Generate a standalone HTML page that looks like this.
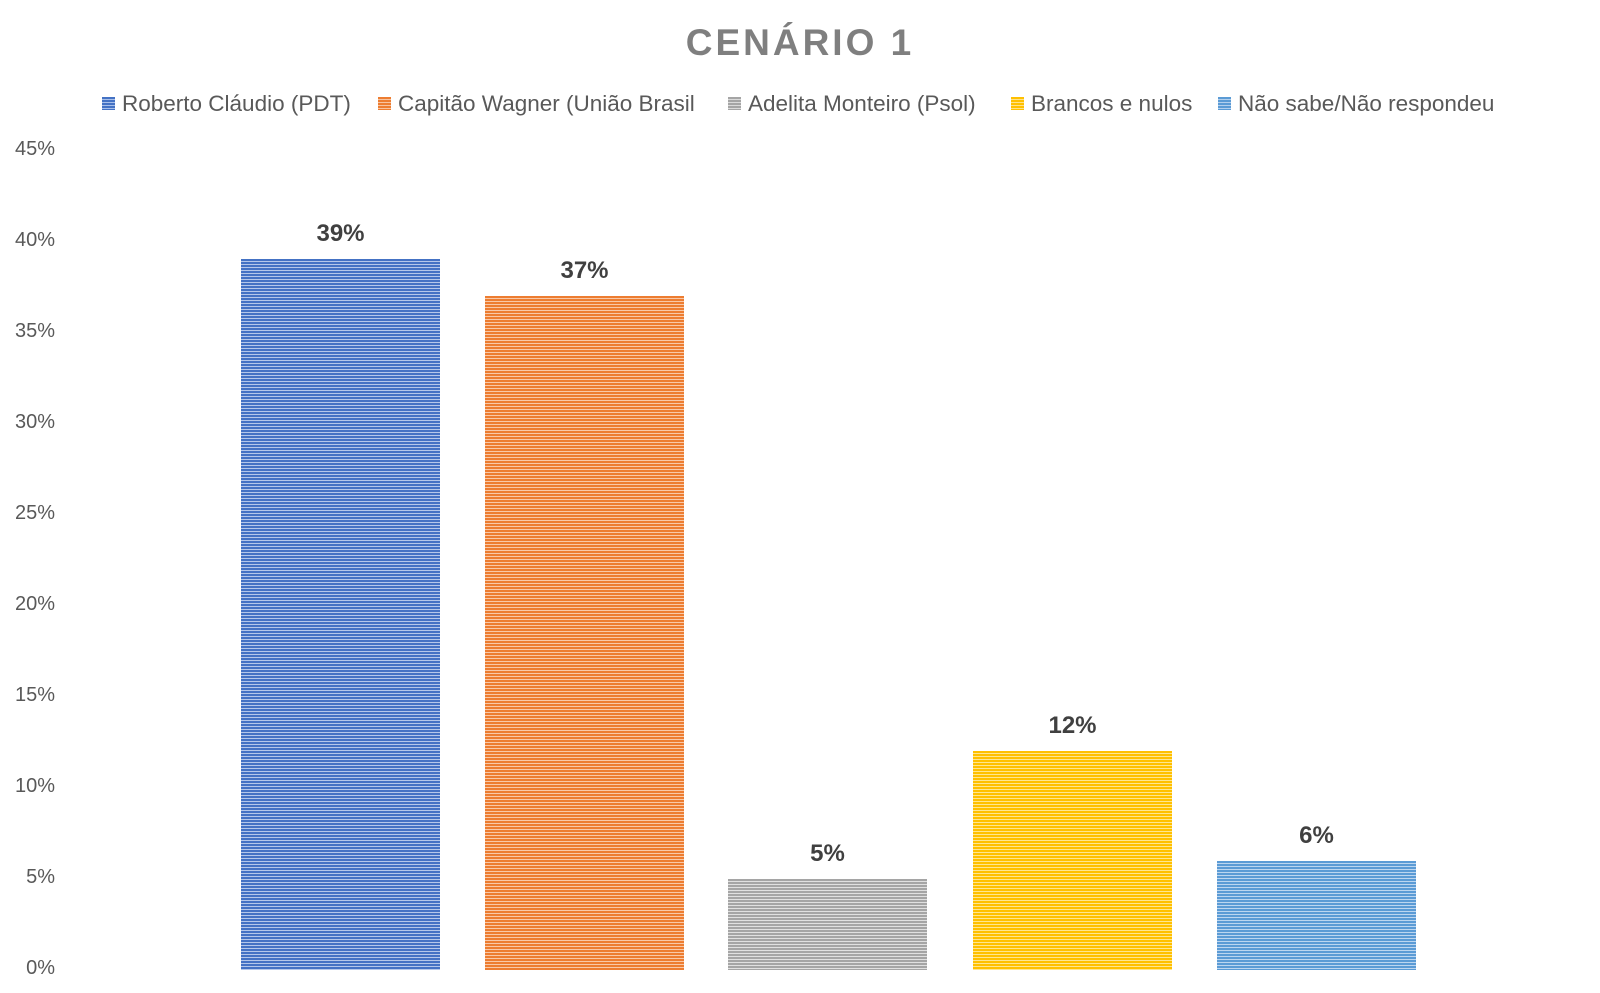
<!DOCTYPE html>
<html><head><style>
body{margin:0;width:1600px;height:993px;background:#fff;font-family:"Liberation Sans",sans-serif;position:relative;overflow:hidden}
.t{position:absolute;left:0;width:1600px;text-align:center;top:22px;font-size:37px;font-weight:bold;color:#7f7f7f;letter-spacing:3px}
.y{position:absolute;left:0;width:55px;text-align:right;font-size:20px;color:#595959}
.b{position:absolute;width:199px}
.l{position:absolute;width:199px;text-align:center;font-size:24px;font-weight:bold;color:#404040}
.lg{position:absolute;top:91px;font-size:22.5px;color:#595959;white-space:nowrap}
.lg i{display:inline-block;width:13px;height:13px;margin-right:7px;vertical-align:1px}
</style></head><body>
<div class="t">CENÁRIO 1</div>
<div class="lg" style="left:102px"><i style="background:repeating-linear-gradient(#4472c4 0 2px,#a9c0ea 2px 3px)"></i>Roberto Cláudio (PDT)</div>
<div class="lg" style="left:378px"><i style="background:repeating-linear-gradient(#ed7d31 0 2px,#f8c4a0 2px 3px)"></i>Capitão Wagner (União Brasil</div>
<div class="lg" style="left:728px"><i style="background:repeating-linear-gradient(#a5a5a5 0 2px,#dadada 2px 3px)"></i>Adelita Monteiro (Psol)</div>
<div class="lg" style="left:1011px"><i style="background:repeating-linear-gradient(#ffc000 0 2px,#ffe38a 2px 3px)"></i>Brancos e nulos</div>
<div class="lg" style="left:1218px"><i style="background:repeating-linear-gradient(#5b9bd5 0 2px,#b3d0ee 2px 3px)"></i>Não sabe/Não respondeu</div>
<div class="y" style="top:138px">45%</div>
<div class="y" style="top:229px">40%</div>
<div class="y" style="top:320px">35%</div>
<div class="y" style="top:411px">30%</div>
<div class="y" style="top:502px">25%</div>
<div class="y" style="top:593px">20%</div>
<div class="y" style="top:684px">15%</div>
<div class="y" style="top:775px">10%</div>
<div class="y" style="top:866px">5%</div>
<div class="y" style="top:957px">0%</div>
<div class="b" style="left:241px;top:259px;height:711px;background:repeating-linear-gradient(#4472c4 0 2px,#b4c7ea 2px 3px)"></div>
<div class="b" style="left:485px;top:296px;height:674px;background:repeating-linear-gradient(#ed7d31 0 2px,#f9c9a8 2px 3px)"></div>
<div class="b" style="left:728px;top:879px;height:91px;background:repeating-linear-gradient(#a5a5a5 0 2px,#e0e0e0 2px 3px)"></div>
<div class="b" style="left:973px;top:751px;height:219px;background:repeating-linear-gradient(#ffc000 0 2px,#ffe690 2px 3px)"></div>
<div class="b" style="left:1217px;top:861px;height:109px;background:repeating-linear-gradient(#5b9bd5 0 2px,#bcd6f0 2px 3px)"></div>
<div class="l" style="left:241px;top:220px">39%</div>
<div class="l" style="left:485px;top:257px">37%</div>
<div class="l" style="left:728px;top:840px">5%</div>
<div class="l" style="left:973px;top:712px">12%</div>
<div class="l" style="left:1217px;top:822px">6%</div>
</body></html>
